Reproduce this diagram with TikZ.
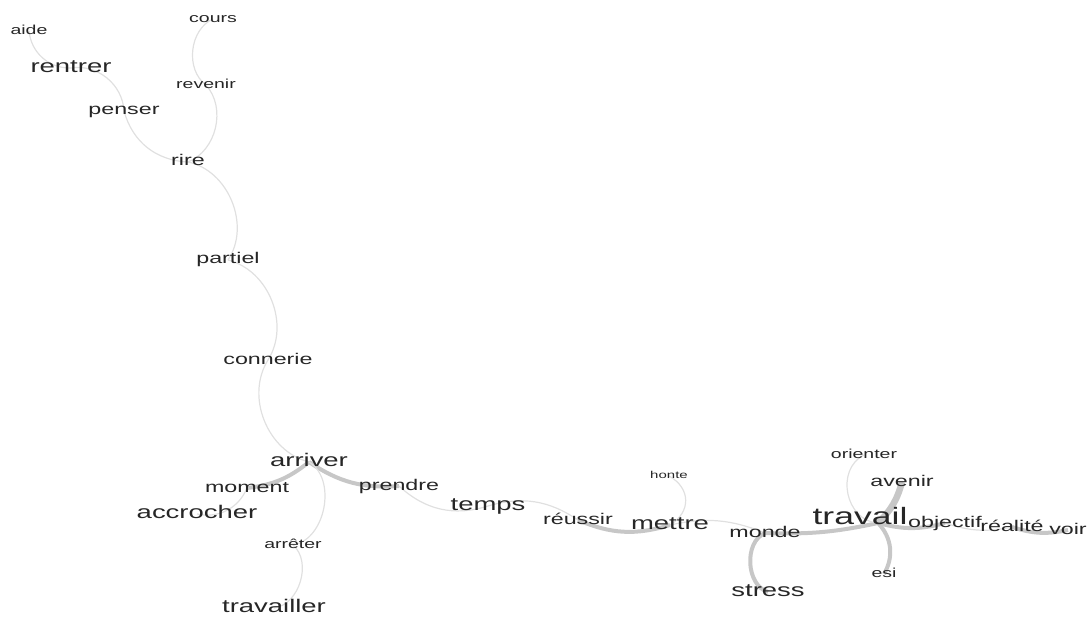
\documentclass[tikz,border=0pt]{standalone}
\usepackage{fontspec}
\newfontfamily\motfont{Liberation Sans}[FakeStretch=1.5]
\usetikzlibrary{backgrounds}

\begin{document}
\begin{tikzpicture}[x=1pt,y=1pt,
		mot/.style={inner sep=0pt, yshift=-3pt, text depth=0pt, text=black!85},
		motA/.style={mot, text height=5.2pt, font=\motfont\fontsize{10}{10}\selectfont},
		motB/.style={mot, text height=6.7pt, font=\motfont\fontsize{13}{13}\selectfont},
		motC/.style={mot, text height=8pt, font=\motfont\fontsize{15.5}{15.5}\selectfont},
		motD/.style={mot, text height=9.5pt, font=\motfont\fontsize{18.3}{18.3}\selectfont},
		motE/.style={mot, text height=12.3pt, font=\motfont\fontsize{23.7}{23.7}\selectfont},
		lien/.style={draw=black!12, line width=1.2pt},
		fort/.style={draw=black!22, line width=4pt},
		tresfort/.style={draw=black!22, line width=6.5pt}]
			\useasboundingbox (0,0) rectangle (1092,-617);

			% Nodes
			\node[motB] (aide) at (29,-28) {aide};
			\node[motB] (cours) at (213,-16) {cours};
			\node[motD] (rentrer) at (71,-65) {rentrer};
			\node[motB] (revenir) at (206,-82) {revenir};
			\node[motC] (penser) at (124,-108) {penser};
			\node[motC] (rire) at (188,-159) {rire};
			\node[motC] (partiel) at (228,-257) {partiel};
			\node[motC] (connerie) at (268,-357) {connerie};
			\node[motD] (arriver) at (309,-459) {arriver};
			\node[motC] (moment) at (247,-485) {moment};
			\node[motD] (accrocher) at (197,-511) {accrocher};
			\node[motC] (prendre) at (399,-483) {prendre};
			\node[motB] (arreter) at (293,-542) {arrêter};
			\node[motD] (travailler) at (274,-605) {travailler};
			\node[motD] (temps) at (488,-503) {temps};
			\node[motC] (reussir) at (578,-517) {réussir};
			\node[motD] (mettre) at (670,-522) {mettre};
			\node[motA] (honte) at (669,-473) {honte};
			\node[motC] (monde) at (765,-530) {monde};
			\node[motD] (stress) at (768,-589) {stress};

			% Nodes round travail
			\node[motB] (orienter) at (864,-452) {orienter};
			\node[motC] (avenir) at (902,-479) {avenir};
			\node[motE] (travail) at (860,-515) {travail};
			\node[motC] (objectif) at (945,-520) {objectif};
			\node[motC] (realite) at (1012,-524) {réalité};
			\node[motC] (voir) at (1068,-527) {voir};
			\node[motB] (esi) at (884,-571) {esi};

			\begin{scope}[on background layer]
			% Upper branch
			\draw[lien] (aide.center) to[bend right=43] (rentrer.center);
			\draw[lien] (rentrer.center) to[bend left=48] (penser.center);
			\draw[lien] (penser.center) to[bend right=36] (rire.center);
			\draw[lien] (cours.center) to[bend right=60] (revenir.center);
			\draw[lien] (revenir.center) to[bend left=55] (rire.center);
			\draw[lien] (rire.center) to[bend left=56] (partiel.center);
			\draw[lien] (partiel.center) to[bend left=54] (connerie.center);
			\draw[lien] (connerie.center) to[bend right=54] (arriver.center);

			% Lines from arriver
			\draw[fort] (arriver.center) to[bend left=16] (moment.center);
			\draw[lien] (moment.center) to[bend left=40] (accrocher.center);
			\draw[fort] (arriver.center) to[bend right=19] (prendre.center);
			\draw[lien] (arriver.center) to[bend left=70] (arreter.center);
			\draw[lien] (arreter.center) to[bend left=66] (travailler.center);

			% Lines along the bottom
			\draw[lien] (prendre.center) to[bend right=30] (temps.center);
			\draw[lien] (temps.center) to[bend left=25] (reussir.center);
			\draw[fort] (reussir.center) to[bend right=20] (mettre.center);
			\draw[lien] (mettre.center) to[bend right=60, looseness=1.3] (honte.center);
			\draw[lien] (mettre.center) to[bend left=17] (monde.center);
			\draw[fort] (monde.center) to[bend right=70] (stress.center);
			\draw[fort] (monde.center) to[bend right=7] ([shift={(18,-5)}]travail.center);

			% Lines from travail
			\draw[lien] ([shift={(18,-5)}]travail.center) to[bend left=75, looseness=1.2] (orienter.center);
			\draw[tresfort] ([shift={(18,-5)}]travail.center) to[bend right=15] (avenir.center);
			\draw[fort] ([shift={(18,-5)}]travail.center) to[bend left=37] (esi.center);
			\draw[fort] ([shift={(18,-5)}]travail.center) to[bend right=15] (objectif.center);
			\draw[lien] (objectif.center) to[bend right=15] (realite.center);
			\draw[fort] (realite.center) to[bend right=15] (voir.center);
			\end{scope}

		\end{tikzpicture}
\end{document}
